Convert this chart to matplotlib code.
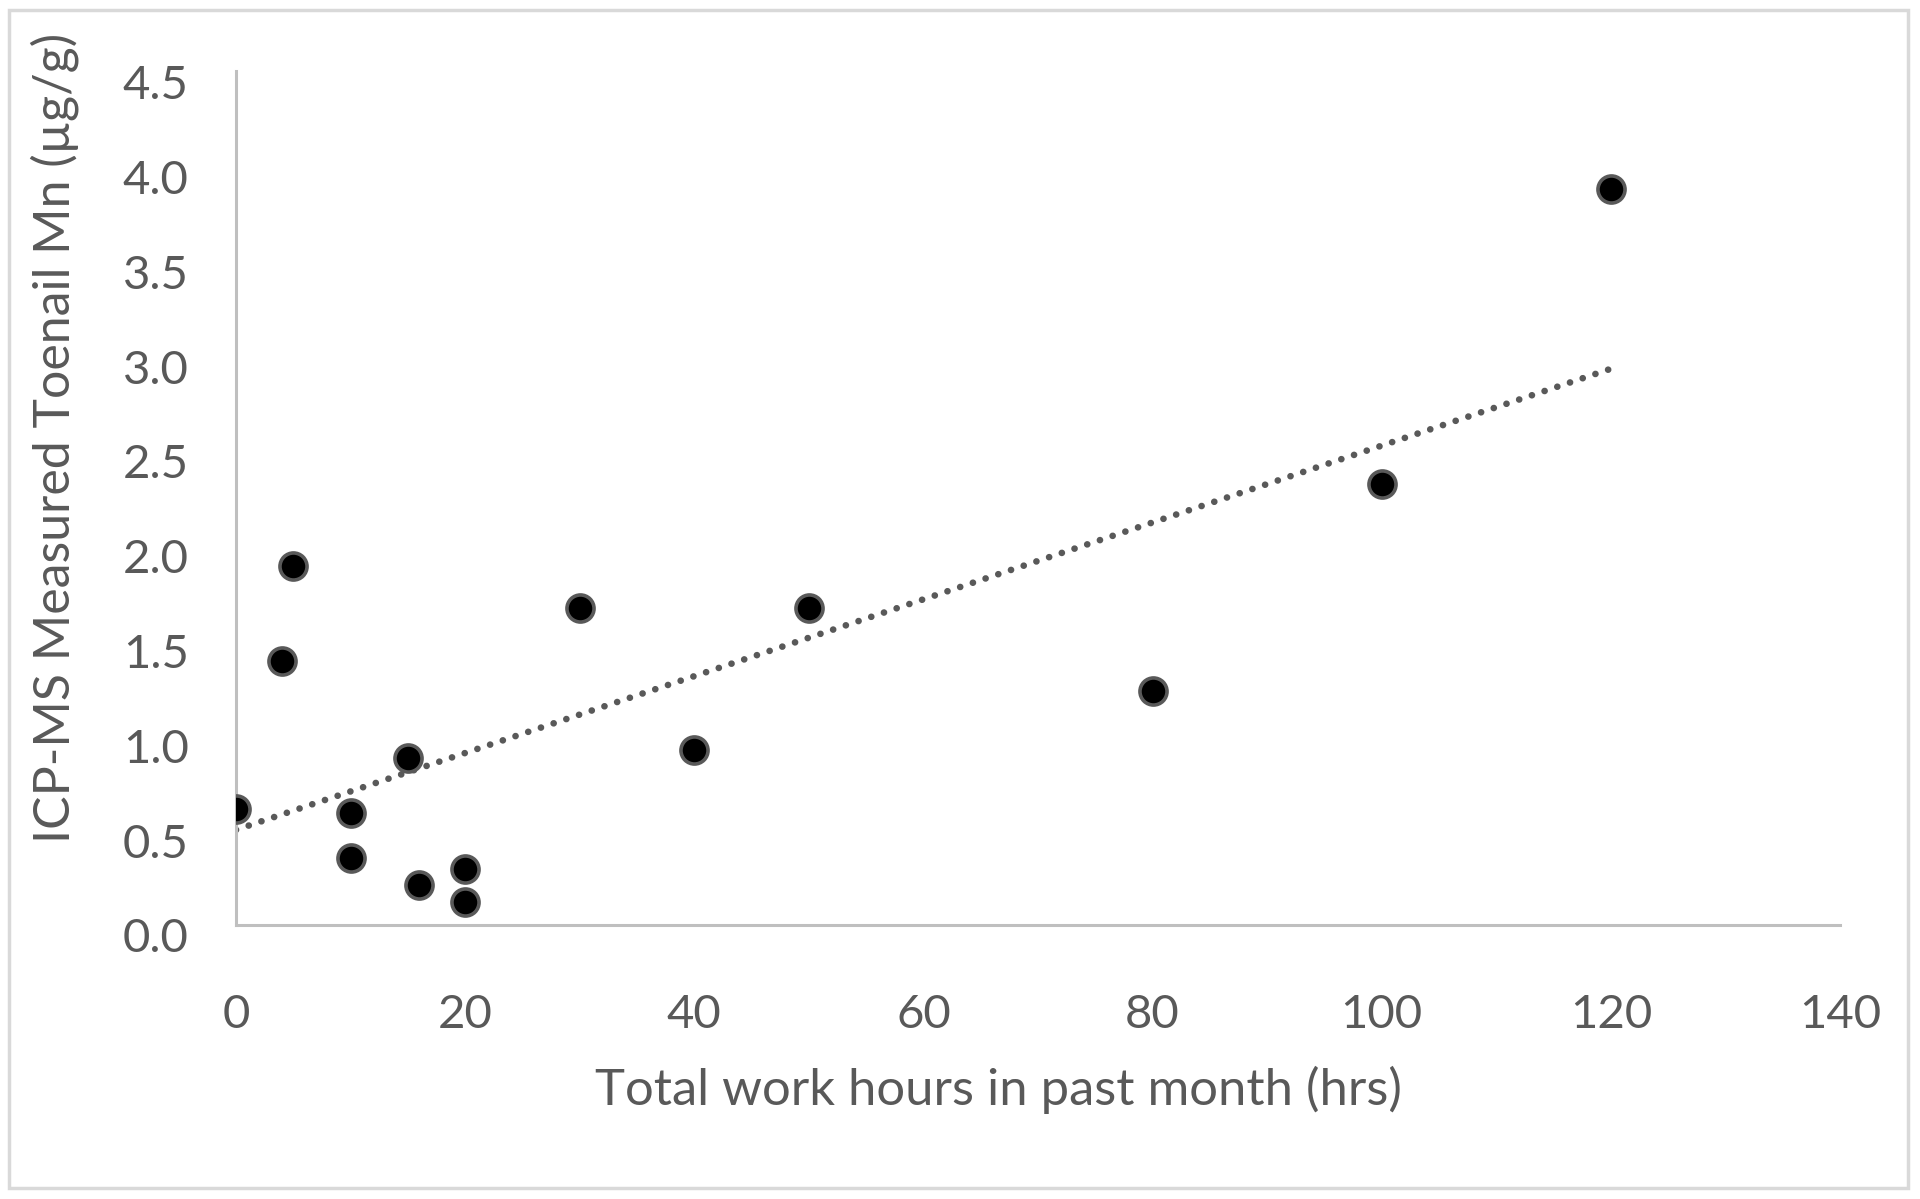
import numpy as np
import matplotlib
matplotlib.use("Agg")
import matplotlib.pyplot as plt
from matplotlib.patches import Rectangle
import matplotlib.transforms as mtransforms

# data
hours = [0, 4, 5, 10, 10, 15, 16, 20, 20, 30, 40, 50, 80, 100, 120]
mn = [0.61, 1.39, 1.89, 0.59, 0.35, 0.88, 0.21, 0.29, 0.12, 1.67, 0.92, 1.67, 1.23, 2.32, 3.88]
x_ticks = [0, 20, 40, 60, 80, 100, 120, 140]
y_ticks = [0.0, 0.5, 1.0, 1.5, 2.0, 2.5, 3.0, 3.5, 4.0, 4.5]

txt = "#595959"
plt.rcParams['font.family'] = ['Lato', 'DejaVu Sans']

fig = plt.figure(figsize=(19.2, 11.99), dpi=100)
fig.patches.append(Rectangle((9/1920, 1 - 1188/1199), 1899/1920, 1178/1199,
                             transform=fig.transFigure, fill=False,
                             edgecolor="#d9d9d9", linewidth=2.5))

ax = fig.add_axes([236/1920, 1 - 924.5/1199, 1604/1920, 853.5/1199])

# linear trend line (Excel-style)
k, b = np.polyfit(hours, mn, 1)
tx = np.array([0, 120])
ax.plot(tx, k * tx + b, color=txt, linewidth=4.8, linestyle=(0, (0.01, 2.0)),
        dash_capstyle="round", zorder=2)

ax.scatter(hours, mn, s=380, facecolor="black", edgecolor=txt, linewidth=2.6, zorder=3)

ax.set_xlim(0, 140)
ax.set_ylim(0, 4.5)
ax.set_xticks(x_ticks)
ax.set_yticks(y_ticks)
ax.set_yticklabels([f"{v:.1f}" for v in y_ticks])
ax.tick_params(length=0, labelsize=34, labelcolor=txt)
ax.tick_params(axis="x", pad=50)
ax.tick_params(axis="y", pad=34)
off = mtransforms.ScaledTranslation(0, -11/100, fig.dpi_scale_trans)
for lab in ax.get_yticklabels():
    lab.set_transform(lab.get_transform() + off)

for s in ["top", "right"]:
    ax.spines[s].set_visible(False)
for s in ["left", "bottom"]:
    ax.spines[s].set_color("#bfbfbf")
    ax.spines[s].set_linewidth(2.2)

ax.set_xlabel("Total work hours in past month (hrs)", fontsize=36.5, color=txt, va="center")
ax.set_ylabel("ICP-MS Measured Toenail Mn (µg/g)", fontsize=36, color=txt, va="center")
ax.xaxis.set_label_coords(0.4756, -0.194)
ax.yaxis.set_label_coords(-0.113, 0.570)

fig.savefig("out.png", dpi=100, facecolor="white")
